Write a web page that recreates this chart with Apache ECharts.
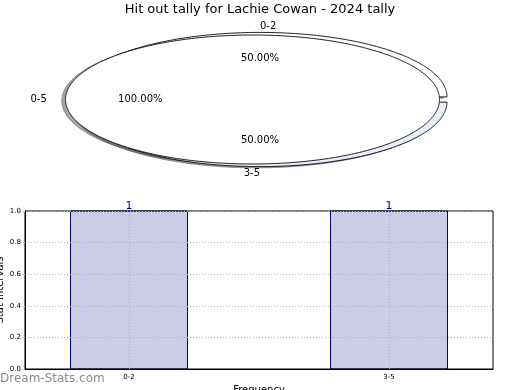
<!DOCTYPE html>
<html><head><meta charset="utf-8">
<script src="https://cdn.jsdelivr.net/npm/echarts@6/dist/echarts.min.js"></script>
<style>html,body{margin:0;padding:0;background:#fff}#c{width:520px;height:390px}</style>
</head><body><div id="c"></div>
<script>
// ---- data ----
const titleText = 'Hit out tally for Lachie Cowan - 2024 tally';
const pieLabels = ['0-2', '0-5', '3-5'];
const pieCounts = [1, 2, 1];
const barCategories = ['0-2', '3-5'];
const barValues = [1, 1];
const yMin = 0, yMax = 1, yStep = 0.2;

// ---- derived ----
const pieTotal = Math.max.apply(null, pieCounts);
const piePct = pieCounts.map(v => v / pieTotal * 100);

const FONT = 'DejaVu Sans';
const PIE = {cx: 260, cy: 99.5, rx: 187, ry: 64.5, explode: 0.04, start: 180, labelDist: 1.1, pctDist: 0.6};
const SHADOW = {dx: -0.02 * 187, dy: 0.02 * 64.5};
const pieFill = ['#ffffff', '#ffffff', '#e8eefa'];
const pieOrder = [1, 3, 2];

let theta = PIE.start;
const wedges = piePct.map(p => {
  const sweep = p / 100 * 360;
  const t1 = theta, t2 = theta - sweep;
  theta = t2;
  return {t1: t1, t2: t2, mid: (t1 + t2) / 2};
});

function hexToRgb(h) {
  const n = parseInt(h.slice(1), 16);
  return [(n >> 16) & 255, (n >> 8) & 255, n & 255];
}
function ellPt(o, t, k) {
  const r = t * Math.PI / 180;
  return [o[0] + k * PIE.rx * Math.cos(r), o[1] - k * PIE.ry * Math.sin(r)];
}
function wedgePoints(o, w) {
  const pts = [];
  const full = Math.abs(w.t1 - w.t2) >= 359.999;
  if (!full) pts.push(o);
  const n = Math.ceil(Math.abs(w.t1 - w.t2)) * 2;
  for (let k = 0; k <= n; k++) {
    const t = w.t1 + (w.t2 - w.t1) * k / n;
    pts.push(ellPt(o, t, 1));
  }
  return pts;
}

function renderPie(params, api) {
  const i = api.value(0);
  const w = wedges[i];
  const m = w.mid * Math.PI / 180;
  const cosm = Math.cos(m), sinm = Math.sin(m);
  const o = [PIE.cx + PIE.explode * PIE.rx * cosm, PIE.cy - PIE.explode * PIE.ry * sinm];
  const pts = wedgePoints(o, w);
  const sh = pts.map(p => [p[0] + SHADOW.dx, p[1] + SHADOW.dy]);
  const rgb = hexToRgb(pieFill[i]).map(c => Math.round(c * 0.3));
  const shCol = 'rgba(' + rgb.join(',') + ',0.5)';
  let align;
  if (Math.abs(cosm) > 1e-9) align = cosm > 0 ? 'left' : 'right';
  else align = sinm > 0 ? 'left' : 'right';
  const lp = [o[0] + PIE.labelDist * PIE.rx * cosm, o[1] - PIE.labelDist * PIE.ry * sinm];
  const pp = [o[0] + PIE.pctDist * PIE.rx * cosm, o[1] - PIE.pctDist * PIE.ry * sinm];
  return {
    type: 'group',
    children: [
      {type: 'polygon', z2: 1, shape: {points: sh}, style: {fill: shCol, stroke: shCol, lineWidth: 1}},
      {type: 'polygon', z2: 10 + pieOrder[i], shape: {points: pts}, style: {fill: pieFill[i], stroke: '#000', lineWidth: 0.9}},
      {type: 'text', z2: 30, style: {text: pieLabels[i], x: lp[0], y: lp[1], align: align, verticalAlign: 'middle', fill: '#000', font: '10px "' + FONT + '"'}},
      {type: 'text', z2: 30, style: {text: piePct[i].toFixed(2) + '%', x: pp[0], y: pp[1], align: 'center', verticalAlign: 'middle', fill: '#000', font: '10px "' + FONT + '"'}}
    ]
  };
}

const BAR_W = 0.45;
function renderBar(params, api) {
  const x = api.value(0), y = api.value(1);
  const p1 = api.coord([x - BAR_W / 2, y]);
  const p2 = api.coord([x + BAR_W / 2, yMin]);
  return {
    type: 'group',
    children: [
      {type: 'rect', shape: {x: p1[0], y: p1[1], width: p2[0] - p1[0], height: p2[1] - p1[1]},
       style: {fill: 'rgba(0,0,128,0.2)', stroke: '#000080', lineWidth: 1}},
      {type: 'text', style: {text: String(y), x: (p1[0] + p2[0]) / 2, y: p1[1] + 1, align: 'center', verticalAlign: 'bottom', fill: '#000080', font: '11px "' + FONT + '"'}}
    ]
  };
}

const GRID_COLOR = '#b0b0b0';
const chart = echarts.init(document.getElementById('c'), null, {renderer: 'canvas'});
chart.setOption({
  animation: false,
  backgroundColor: '#ffffff',
  textStyle: {fontFamily: FONT},
  title: {text: titleText, left: 'center', top: 3, padding: 0,
          textStyle: {fontFamily: FONT, fontSize: 13, fontWeight: 'normal', color: '#000'}},
  graphic: [{type: 'text', left: 0, top: 373, style: {text: 'Dream-Stats.com', fill: '#8a8a8a', font: '12px "' + FONT + '"'}}],
  grid: {left: 25, right: 27, top: 211, bottom: 21, show: true, borderColor: '#000', borderWidth: 1,
         backgroundColor: 'transparent', containLabel: false, outerBoundsMode: 'none'},
  xAxis: {
    type: 'value', min: -0.4, max: 1.4,
    name: 'Frequency', nameLocation: 'middle', nameGap: 16, nameMoveOverlap: false,
    nameTextStyle: {fontFamily: FONT, fontSize: 10, color: '#000'},
    axisLine: {show: true, onZero: false, lineStyle: {color: '#000', width: 1}},
    splitLine: {show: false},
    axisTick: {show: true, customValues: [0, 1], inside: true, length: 158,
               lineStyle: {color: GRID_COLOR, type: [1, 2], width: 1}},
    axisLabel: {customValues: [0, 1], formatter: v => barCategories[Math.round(v)],
                fontFamily: FONT, fontSize: 7, color: '#000', margin: 5}
  },
  yAxis: {
    type: 'value', min: yMin, max: yMax, interval: yStep,
    name: 'Stat Intervals', nameLocation: 'middle', nameGap: 20, nameMoveOverlap: false,
    nameTextStyle: {fontFamily: FONT, fontSize: 10, color: '#000'},
    axisLine: {show: true, onZero: false, lineStyle: {color: '#000', width: 1}},
    axisTick: {show: true, length: 2, lineStyle: {color: '#bbbbbb'}},
    splitLine: {show: true, lineStyle: {color: GRID_COLOR, type: [1, 2], width: 1}},
    axisLabel: {formatter: v => v.toFixed(1), fontFamily: FONT, fontSize: 7, color: '#000', margin: 4}
  },
  series: [
    {type: 'custom', coordinateSystem: 'none', renderItem: renderPie, silent: true,
     data: pieCounts.map((v, i) => [i, v])},
    {type: 'custom', coordinateSystem: 'cartesian2d', renderItem: renderBar, z: -1, silent: true,
     data: barValues.map((v, i) => [i, v])}
  ]
});
</script></body></html>
